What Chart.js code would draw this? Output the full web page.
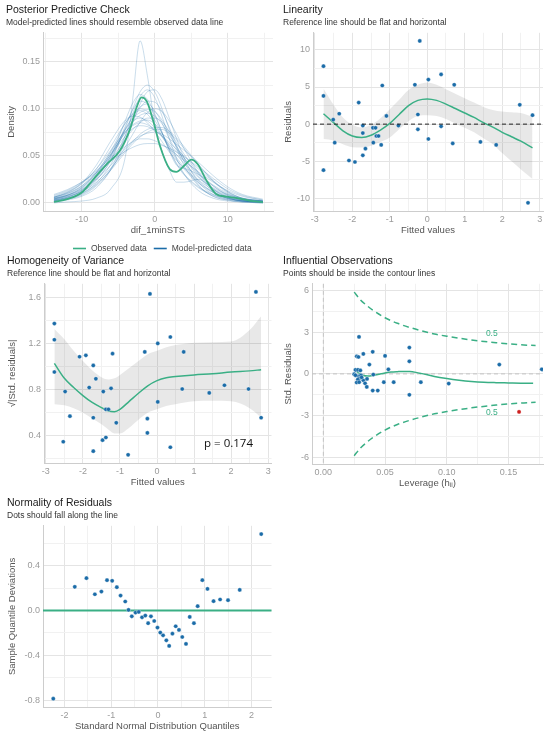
<!DOCTYPE html>
<html>
<head>
<meta charset="utf-8">
<script src="https://cdn.jsdelivr.net/npm/chart.js@4.4.1/dist/chart.umd.min.js"></script>
<style>
  body { margin: 0; background: #fff; }
  #wrap { position: relative; width: 550px; height: 738px; overflow: hidden; }
  canvas { position: absolute; }
</style>
</head>
<body>
<div id="wrap">
  <canvas id="ppc" width="275" height="258" style="left:0;top:0"></canvas>
  <canvas id="lin" width="275" height="242" style="left:275px;top:0"></canvas>
  <canvas id="hom" width="276" height="243" style="left:0;top:251px"></canvas>
  <canvas id="inf" width="275" height="244" style="left:275px;top:251px"></canvas>
  <canvas id="qq" width="276" height="245" style="left:0;top:493px"></canvas>
</div>
<script>
const FONT = "'Liberation Sans', Arial, Helvetica, sans-serif";
const GREEN = '#3aaf85', BLUE = '#1b6ca8', RED = '#cd201f';
Chart.defaults.font.family = FONT;

// posterior predictive check: observed density
const obsX = [-13.8, -12, -10, -8.4, -6.6, -4.8, -3.4, -2.5, -1.8, -1.1, -0.2, 0.7, 2.05, 2.95, 4.1, 5.0, 5.9, 7.0, 8.4, 9.8, 11.1, 12.95, 14.8];
const obsDens = [0.001, 0.004, 0.011, 0.025, 0.041, 0.055, 0.078, 0.101, 0.112, 0.108, 0.087, 0.061, 0.036, 0.033, 0.040, 0.046, 0.041, 0.025, 0.0095, 0.0067, 0.0053, 0.0025, 0.0007];

// model-predicted densities (read on a common grid)
const predX = [-13.8, -12, -10, -8, -6, -4, -3, -2, -1, 0, 1, 2, 3, 4, 6, 8, 10, 12, 14.8];
const predDens = [
  [0.000, 0.001, 0.002, 0.005, 0.015, 0.050, 0.111, 0.172, 0.135, 0.085, 0.055, 0.035, 0.022, 0.022, 0.025, 0.012, 0.005, 0.002, 0.001],
  [0.003, 0.006, 0.012, 0.025, 0.045, 0.080, 0.100, 0.118, 0.125, 0.118, 0.100, 0.078, 0.058, 0.040, 0.018, 0.007, 0.003, 0.001, 0.000],
  [0.002, 0.004, 0.008, 0.018, 0.035, 0.065, 0.085, 0.105, 0.118, 0.120, 0.110, 0.090, 0.068, 0.048, 0.022, 0.009, 0.004, 0.002, 0.001],
  [0.004, 0.008, 0.016, 0.032, 0.055, 0.085, 0.095, 0.100, 0.097, 0.088, 0.074, 0.060, 0.048, 0.038, 0.022, 0.012, 0.006, 0.003, 0.001],
  [0.006, 0.010, 0.018, 0.032, 0.052, 0.075, 0.086, 0.093, 0.095, 0.092, 0.084, 0.072, 0.060, 0.048, 0.028, 0.015, 0.008, 0.004, 0.002],
  [0.005, 0.008, 0.015, 0.028, 0.046, 0.068, 0.078, 0.085, 0.090, 0.090, 0.086, 0.076, 0.064, 0.052, 0.032, 0.018, 0.009, 0.004, 0.002],
  [0.007, 0.012, 0.021, 0.036, 0.056, 0.076, 0.082, 0.085, 0.083, 0.078, 0.070, 0.060, 0.051, 0.042, 0.027, 0.016, 0.009, 0.005, 0.002],
  [0.008, 0.013, 0.022, 0.034, 0.048, 0.060, 0.065, 0.068, 0.068, 0.066, 0.062, 0.057, 0.051, 0.045, 0.033, 0.022, 0.013, 0.007, 0.003],
  [0.002, 0.005, 0.011, 0.024, 0.046, 0.082, 0.099, 0.108, 0.105, 0.093, 0.075, 0.057, 0.042, 0.031, 0.017, 0.009, 0.005, 0.002, 0.001],
  [0.004, 0.007, 0.012, 0.022, 0.037, 0.056, 0.065, 0.073, 0.078, 0.080, 0.080, 0.076, 0.069, 0.060, 0.041, 0.024, 0.012, 0.005, 0.002],
  [0.002, 0.004, 0.009, 0.019, 0.036, 0.060, 0.073, 0.086, 0.096, 0.100, 0.097, 0.087, 0.073, 0.058, 0.032, 0.015, 0.006, 0.003, 0.001],
  [0.006, 0.011, 0.021, 0.040, 0.066, 0.088, 0.092, 0.091, 0.085, 0.076, 0.065, 0.054, 0.045, 0.037, 0.024, 0.014, 0.007, 0.003, 0.001],
  [0.003, 0.006, 0.013, 0.026, 0.048, 0.078, 0.092, 0.102, 0.105, 0.098, 0.085, 0.068, 0.056, 0.048, 0.030, 0.014, 0.006, 0.002, 0.001],
  [0.005, 0.008, 0.014, 0.025, 0.040, 0.058, 0.066, 0.071, 0.074, 0.075, 0.073, 0.068, 0.062, 0.056, 0.043, 0.029, 0.017, 0.009, 0.004],
  [0.003, 0.006, 0.013, 0.027, 0.050, 0.088, 0.106, 0.115, 0.110, 0.095, 0.075, 0.056, 0.041, 0.030, 0.016, 0.008, 0.004, 0.002, 0.001],
  [0.004, 0.008, 0.016, 0.030, 0.052, 0.075, 0.083, 0.087, 0.088, 0.084, 0.074, 0.055, 0.040, 0.037, 0.030, 0.018, 0.008, 0.003, 0.001],
  [0.003, 0.005, 0.010, 0.020, 0.035, 0.054, 0.063, 0.070, 0.075, 0.078, 0.078, 0.074, 0.067, 0.058, 0.040, 0.023, 0.011, 0.005, 0.002],
  [0.006, 0.011, 0.020, 0.036, 0.060, 0.085, 0.094, 0.098, 0.094, 0.084, 0.071, 0.058, 0.046, 0.036, 0.021, 0.011, 0.005, 0.002, 0.001],
  [0.009, 0.014, 0.022, 0.032, 0.044, 0.055, 0.059, 0.062, 0.063, 0.063, 0.061, 0.058, 0.054, 0.049, 0.038, 0.026, 0.015, 0.008, 0.003],
  [0.001, 0.003, 0.007, 0.016, 0.036, 0.072, 0.095, 0.113, 0.120, 0.112, 0.092, 0.068, 0.047, 0.031, 0.013, 0.005, 0.002, 0.001, 0.000],
  [0.004, 0.007, 0.014, 0.028, 0.050, 0.079, 0.090, 0.096, 0.099, 0.097, 0.088, 0.074, 0.059, 0.045, 0.024, 0.011, 0.005, 0.002, 0.001],
  [0.005, 0.009, 0.017, 0.031, 0.051, 0.071, 0.079, 0.082, 0.081, 0.077, 0.071, 0.064, 0.057, 0.050, 0.036, 0.023, 0.012, 0.005, 0.002],
  [0.002, 0.005, 0.010, 0.021, 0.041, 0.072, 0.088, 0.101, 0.108, 0.107, 0.097, 0.080, 0.061, 0.044, 0.019, 0.007, 0.003, 0.001, 0.000],
  [0.006, 0.010, 0.018, 0.033, 0.054, 0.078, 0.087, 0.090, 0.087, 0.080, 0.071, 0.062, 0.054, 0.046, 0.031, 0.019, 0.010, 0.004, 0.002]
];

// linearity
const fitted = [-2.77, -2.77, -2.77, -2.51, -2.47, -2.35, -2.09, -1.93, -1.83, -1.72, -1.72, -1.72, -1.65, -1.45, -1.44, -1.38, -1.36, -1.30, -1.23, -1.20, -1.09, -0.77, -0.33, -0.25, -0.25, -0.20, 0.03, 0.03, 0.37, 0.37, 0.68, 0.72, 1.42, 1.84, 2.47, 2.69, 2.81];
const residuals = [7.8, 3.8, -6.2, 0.6, -2.5, 1.4, -4.9, -5.1, 2.9, -0.2, -1.2, -4.2, -3.3, -0.5, -2.5, -0.5, -1.6, -1.6, -2.8, 5.2, 1.1, -0.2, 5.3, 1.3, -0.7, 11.2, 6.0, -2.0, 6.7, -0.3, -2.6, 5.3, -2.4, -2.8, 2.6, -10.6, 1.2];
const linSmoothX = [-2.77, -2.5, -2.25, -2.0, -1.75, -1.5, -1.25, -1.0, -0.75, -0.5, -0.25, 0, 0.25, 0.5, 0.75, 1.0, 1.25, 1.5, 1.75, 2.0, 2.25, 2.5, 2.81];
const linSmooth = [1.4, 0.2, -0.9, -1.6, -1.8, -1.5, -0.8, 0.1, 1.3, 2.5, 3.2, 3.4, 3.2, 2.7, 2.1, 1.5, 0.9, 0.2, -0.4, -1.1, -1.7, -2.3, -3.2];
const linUpper = [4.8, 2.6, 0.9, -0.1, -0.45, -0.1, 0.8, 2.0, 3.3, 4.6, 5.3, 5.6, 5.3, 4.7, 4.1, 3.5, 2.9, 2.3, 1.9, 1.7, 1.6, 1.5, 1.0];
const linLower = [-2.0, -2.2, -2.7, -3.1, -3.15, -2.9, -2.4, -1.8, -0.7, 0.4, 1.1, 1.2, 1.1, 0.7, 0.1, -0.5, -1.1, -1.9, -2.7, -3.9, -5.0, -6.1, -7.4];

// homogeneity of variance
const homX = [-2.77, -2.77, -2.77, -2.53, -2.48, -2.35, -2.09, -1.92, -1.83, -1.72, -1.72, -1.72, -1.65, -1.45, -1.47, -1.38, -1.38, -1.31, -1.24, -1.20, -1.10, -0.78, -0.33, -0.26, -0.26, -0.19, 0.02, 0.02, 0.36, 0.36, 0.68, 0.72, 1.41, 1.82, 2.47, 2.67, 2.81];
const homY = [1.377, 1.236, 0.955, 0.348, 0.785, 0.571, 1.088, 1.10, 0.82, 1.012, 0.557, 0.266, 0.896, 0.785, 0.362, 0.63, 0.385, 0.63, 0.813, 1.115, 0.513, 0.234, 1.13, 0.549, 0.425, 1.635, 1.204, 0.695, 1.26, 0.30, 0.807, 1.13, 0.773, 0.84, 0.807, 1.652, 0.557];
const homSmoothX = [-2.77, -2.5, -2.25, -2.0, -1.75, -1.5, -1.3, -1.15, -1.0, -0.75, -0.5, -0.25, 0, 0.25, 0.5, 1.0, 1.5, 2.0, 2.5, 2.81];
const homSmooth = [1.03, 0.90, 0.82, 0.75, 0.69, 0.645, 0.615, 0.61, 0.63, 0.70, 0.77, 0.835, 0.88, 0.905, 0.915, 0.93, 0.94, 0.955, 0.965, 0.975];
const homUpper = [1.33, 1.24, 1.14, 1.05, 0.97, 0.91, 0.89, 0.90, 0.93, 0.99, 1.05, 1.11, 1.14, 1.17, 1.19, 1.21, 1.215, 1.22, 1.32, 1.44];
const homLower = [0.675, 0.665, 0.64, 0.60, 0.55, 0.50, 0.45, 0.42, 0.42, 0.47, 0.54, 0.60, 0.63, 0.66, 0.675, 0.70, 0.705, 0.70, 0.64, 0.56];

// influential observations
const leverage = [0.0289, 0.0271, 0.0285, 0.0324, 0.040, 0.0373, 0.050, 0.0527, 0.0697, 0.0697, 0.0697, 0.026, 0.028, 0.025, 0.0284, 0.0292, 0.0279, 0.027, 0.0305, 0.0324, 0.029, 0.0338, 0.0354, 0.0352, 0.040, 0.0441, 0.049, 0.057, 0.0405, 0.079, 0.1016, 0.1426, 0.177, 0.030, 0.031, 0.026];
const stdResid = [2.67, 1.27, 1.22, 1.44, 1.59, 0.67, 1.30, 0.33, 1.90, 0.91, -1.51, 0.29, 0.29, -0.02, -0.17, -0.31, -0.41, -0.62, -0.1, -0.46, -0.6, -0.68, -0.36, -0.94, -1.2, -1.2, -0.6, -0.6, -0.05, -0.6, -0.7, 0.67, 0.33, 0.25, -0.25, -0.1];
const flaggedLeverage = [0.1586];
const flaggedStdResid = [-2.74];
const infSmoothX = [0.025, 0.028, 0.032, 0.036, 0.040, 0.045, 0.05, 0.055, 0.06, 0.065, 0.07, 0.075, 0.08, 0.09, 0.10, 0.11, 0.12, 0.13, 0.14, 0.15, 0.16, 0.17];
const infSmooth = [0.33, 0.1, -0.1, -0.16, -0.12, -0.02, 0.07, 0.13, 0.16, 0.18, 0.17, 0.11, 0.02, -0.18, -0.33, -0.45, -0.54, -0.6, -0.63, -0.65, -0.67, -0.68];
const cookX = [0.025, 0.03, 0.035, 0.04, 0.05, 0.06, 0.07, 0.08, 0.09, 0.10, 0.12, 0.14, 0.16, 0.172];
const cookUpper = [5.9, 5.35, 4.95, 4.6, 4.05, 3.65, 3.35, 3.1, 2.88, 2.72, 2.45, 2.25, 2.1, 2.05];
const cookLower = [-5.9, -5.35, -4.95, -4.6, -4.05, -3.65, -3.35, -3.1, -2.88, -2.72, -2.45, -2.25, -2.1, -2.05];

// normality of residuals
const qqTheory = [-2.24, -1.78, -1.53, -1.35, -1.21, -1.09, -0.98, -0.88, -0.80, -0.70, -0.63, -0.56, -0.48, -0.41, -0.34, -0.27, -0.21, -0.15, -0.08, -0.01, 0.05, 0.11, 0.18, 0.24, 0.31, 0.38, 0.45, 0.52, 0.60, 0.68, 0.77, 0.85, 0.95, 1.06, 1.19, 1.33, 1.50, 1.75, 2.21];
const qqDev = [-0.788, 0.212, 0.29, 0.146, 0.17, 0.272, 0.266, 0.209, 0.134, 0.081, 0.006, -0.051, -0.018, -0.012, -0.06, -0.045, -0.113, -0.051, -0.093, -0.152, -0.197, -0.221, -0.266, -0.316, -0.206, -0.14, -0.173, -0.236, -0.298, -0.057, -0.113, 0.039, 0.272, 0.194, 0.084, 0.099, 0.093, 0.185, 0.684];

// tick values: labelled majors, unlabelled minor grid lines
const ppcXMajor = [-10, 0, 10], ppcXMinor = [-15, -5, 5, 15];
const ppcYMajor = [0, 0.05, 0.1, 0.15], ppcYMinor = [0.025, 0.075, 0.125, 0.175];
const fitXMajor = [-3, -2, -1, 0, 1, 2, 3], fitXMinor = [-2.5, -1.5, -0.5, 0.5, 1.5, 2.5];
const linYMajor = [-10, -5, 0, 5, 10], linYMinor = [-7.5, -2.5, 2.5, 7.5];
const homYMajor = [0.4, 0.8, 1.2, 1.6], homYMinor = [0.2, 0.6, 1.0, 1.4];
const infXMajor = [0, 0.05, 0.1, 0.15], infXMinor = [0.025, 0.075, 0.125, 0.175];
const infYMajor = [-6, -3, 0, 3, 6], infYMinor = [-4.5, -1.5, 1.5, 4.5];
const qqXMajor = [-2, -1, 0, 1, 2], qqXMinor = [-1.5, -0.5, 0.5, 1.5];
const qqYMajor = [-0.8, -0.4, 0, 0.4], qqYMinor = [-0.6, -0.2, 0.2, 0.6];

const ppcLegend = ['Observed data', 'Model-predicted data'];

const pts = (xs, ys) => xs.map((x, i) => ({ x: x, y: ys[i] }));

// reference lines, text notes and a line-key legend
Chart.register({
  id: 'refLines',
  beforeDatasetsDraw(chart, args, opts) { drawRefs(chart, opts, false); },
  afterDatasetsDraw(chart, args, opts) { drawRefs(chart, opts, true); }
});
function drawRefs(chart, opts, top) {
  const { ctx, chartArea: a, scales: { x, y } } = chart;
  (opts.lines || []).filter(l => !!l.top === top).forEach(l => {
    ctx.save();
    ctx.strokeStyle = l.color;
    ctx.lineWidth = l.width;
    ctx.setLineDash(l.dash || []);
    ctx.beginPath();
    if (l.axis === 'y') {
      const py = y.getPixelForValue(l.value);
      ctx.moveTo(a.left, py); ctx.lineTo(a.right, py);
    } else {
      const px = x.getPixelForValue(l.value);
      ctx.moveTo(px, a.top); ctx.lineTo(px, a.bottom);
    }
    ctx.stroke();
    ctx.restore();
  });
}
Chart.register({
  id: 'notes',
  afterDatasetsDraw(chart, args, opts) {
    const { ctx, scales: { x, y } } = chart;
    (opts.items || []).forEach(it => {
      ctx.save();
      ctx.font = it.font;
      ctx.fillStyle = it.color;
      ctx.textAlign = 'center';
      ctx.textBaseline = 'middle';
      ctx.fillText(it.text, x.getPixelForValue(it.x), y.getPixelForValue(it.y));
      ctx.restore();
    });
  }
});
Chart.register({
  id: 'lineKey',
  afterDraw(chart, args, opts) {
    if (!opts.items) return;
    const ctx = chart.ctx;
    ctx.save();
    ctx.font = opts.font;
    ctx.textBaseline = 'middle';
    let cx = opts.left;
    opts.items.forEach(it => {
      ctx.strokeStyle = it.color;
      ctx.lineWidth = 1.6;
      ctx.beginPath();
      ctx.moveTo(cx, opts.y); ctx.lineTo(cx + 13, opts.y);
      ctx.stroke();
      cx += 18;
      ctx.fillStyle = opts.color;
      ctx.fillText(it.text, cx, opts.y);
      cx += ctx.measureText(it.text).width + 7;
    });
    ctx.restore();
  }
});

function axis(pos, min, max, major, minor, dec, title, size) {
  const isMajor = v => major.indexOf(v) >= 0;
  return {
    type: 'linear', position: pos, min: min, max: max,
    afterBuildTicks: s => { s.ticks = major.concat(minor).sort((a, b) => a - b).map(v => ({ value: v })); },
    afterFit: s => { if (pos === 'left') s.width = size; else s.height = size; },
    grid: {
      drawTicks: false,
      color: c => (c.tick && isMajor(c.tick.value)) ? '#e4e4e4' : '#f1f1f1',
      lineWidth: 1
    },
    border: { display: true, color: '#cdcdcd', width: 1 },
    ticks: {
      padding: 3, autoSkip: false, maxRotation: 0, color: '#9a9a9a',
      font: { family: FONT, size: 9 },
      callback: v => isMajor(v) ? v.toFixed(dec) : ''
    },
    title: {
      display: true, text: title, color: '#555',
      font: { family: FONT, size: 9.5, lineHeight: 1 },
      padding: pos === 'left' ? { top: 1 } : { bottom: 4 }
    }
  };
}

function panel(id, o) {
  return new Chart(document.getElementById(id), {
    type: 'scatter',
    data: { datasets: o.datasets },
    options: {
      responsive: false,
      animation: false,
      layout: { padding: o.pad },
      plugins: {
        legend: { display: false },
        tooltip: { enabled: false },
        title: {
          display: true, text: o.title, align: 'start', color: '#1a1a1a',
          font: { family: FONT, size: 10.5, weight: 'normal' }, padding: { top: 0, bottom: 1 }
        },
        subtitle: {
          display: true, text: o.subtitle, align: 'start', color: '#333',
          font: { family: FONT, size: 8.5 }, padding: { top: 0, bottom: 5 }
        },
        refLines: { lines: o.refs || [] },
        notes: { items: o.notes || [] },
        lineKey: o.key || {}
      },
      scales: { x: o.x, y: o.y }
    }
  });
}

const curve = (xs, ys, color, width, extra) => Object.assign({
  data: pts(xs, ys), showLine: true, pointRadius: 0, borderColor: color,
  borderWidth: width, cubicInterpolationMode: 'monotone', fill: false
}, extra || {});
const dots = (xs, ys, color) => ({
  data: pts(xs, ys), pointRadius: 2.1, pointBackgroundColor: color,
  pointBorderColor: 'rgba(255,255,255,0.7)', pointBorderWidth: 0.5, showLine: false
});

// 1. posterior predictive check
panel('ppc', {
  pad: { left: 6, right: 2, top: 4, bottom: 19 },
  title: 'Posterior Predictive Check',
  subtitle: 'Model-predicted lines should resemble observed data line',
  datasets: [curve(obsX, obsDens, GREEN, 1.8)].concat(
    predDens.map(d => curve(predX, d, 'rgba(27,108,168,0.26)', 0.9))),
  key: {
    left: 73, y: 248.5, font: '8.5px ' + FONT, color: '#444',
    items: [{ text: ppcLegend[0], color: GREEN }, { text: ppcLegend[1], color: BLUE }]
  },
  x: axis('bottom', -15.3, 16.2, ppcXMajor, ppcXMinor, 0, 'dif_1minSTS', 28),
  y: axis('left', -0.0086, 0.1806, ppcYMajor, ppcYMinor, 2, 'Density', 37)
});

// 2. linearity
panel('lin', {
  pad: { left: 8, right: 7, top: 4, bottom: 3 },
  title: 'Linearity',
  subtitle: 'Reference line should be flat and horizontal',
  datasets: [
    dots(fitted, residuals, BLUE),
    curve(linSmoothX, linSmooth, GREEN, 1.5),
    curve(linSmoothX, linUpper, 'transparent', 0, { fill: '+1', backgroundColor: 'rgba(0,0,0,0.09)' }),
    curve(linSmoothX, linLower, 'transparent', 0)
  ],
  refs: [{ axis: 'y', value: 0, color: '#222', width: 1, dash: [4, 3], top: true }],
  x: axis('bottom', -3.05, 3.09, fitXMajor, fitXMinor, 0, 'Fitted values', 28),
  y: axis('left', -11.7, 12.3, linYMajor, linYMinor, 0, 'Residuals', 30)
});

// 3. homogeneity of variance
panel('hom', {
  pad: { left: 7, right: 0, top: 4, bottom: 3 },
  title: 'Homogeneity of Variance',
  subtitle: 'Reference line should be flat and horizontal',
  datasets: [
    dots(homX, homY, BLUE),
    curve(homSmoothX, homSmooth, GREEN, 1.5),
    curve(homSmoothX, homUpper, 'transparent', 0, { fill: '+1', backgroundColor: 'rgba(0,0,0,0.09)' }),
    curve(homSmoothX, homLower, 'transparent', 0)
  ],
  notes: [{ text: 'p = 0.174', x: 1.93, y: 0.327, font: "11.5px 'Open Sans', sans-serif", color: '#111' }],
  x: axis('bottom', -3.05, 3.09, fitXMajor, fitXMinor, 0, 'Fitted values', 28),
  y: axis('left', 0.163, 1.723, homYMajor, homYMinor, 1, '\u221A|Std. residuals|', 37)
});

// 4. influential observations
panel('inf', {
  pad: { left: 8, right: 7, top: 4, bottom: 3 },
  title: 'Influential Observations',
  subtitle: 'Points should be inside the contour lines',
  datasets: [
    dots(flaggedLeverage, flaggedStdResid, RED),
    dots(leverage, stdResid, BLUE),
    curve(infSmoothX, infSmooth, GREEN, 1.5),
    curve(cookX, cookUpper, GREEN, 1.5, { borderDash: [6, 4] }),
    curve(cookX, cookLower, GREEN, 1.5, { borderDash: [6, 4] })
  ],
  refs: [
    { axis: 'x', value: 0, color: '#c4c4c4', width: 1, dash: [4, 3] },
    { axis: 'y', value: 0, color: '#c4c4c4', width: 1, dash: [4, 3] }
  ],
  notes: [
    { text: '0.5', x: 0.1365, y: 2.9, font: '8.5px ' + FONT, color: GREEN },
    { text: '0.5', x: 0.1365, y: -2.81, font: '8.5px ' + FONT, color: GREEN }
  ],
  x: axis('bottom', -0.0092, 0.178, infXMajor, infXMinor, 2, 'Leverage (h\u1D62\u1D62)', 28),
  y: axis('left', -6.5, 6.5, infYMajor, infYMinor, 0, 'Std. Residuals', 29)
});

// 5. normality of residuals
panel('qq', {
  pad: { left: 7, right: 1, top: 4, bottom: 3 },
  title: 'Normality of Residuals',
  subtitle: 'Dots should fall along the line',
  datasets: [dots(qqTheory, qqDev, BLUE)],
  refs: [{ axis: 'y', value: 0, color: GREEN, width: 2 }],
  x: axis('bottom', -2.46, 2.43, qqXMajor, qqXMinor, 0, 'Standard Normal Distribution Quantiles', 28),
  y: axis('left', -0.862, 0.758, qqYMajor, qqYMinor, 1, 'Sample Quantile Deviations', 36)
});
</script>
</body>
</html>
